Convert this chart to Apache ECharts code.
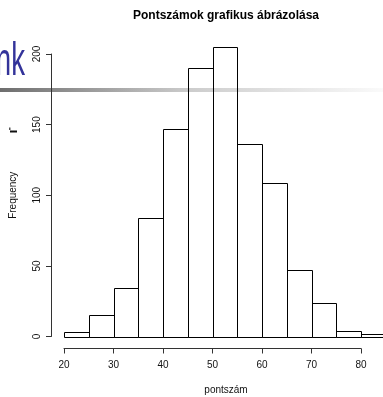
<!DOCTYPE html>
<html>
<head>
<meta charset="utf-8">
<script src="https://cdn.jsdelivr.net/npm/echarts@6/dist/echarts.min.js"></script>
<style>
html,body{margin:0;padding:0;background:#fff;}
#chart{width:383px;height:397px;}
</style>
</head>
<body>
<div id="chart"></div>
<script>
// Histogram data (bin edges and counts)
const binStarts = [20, 25, 30, 35, 40, 45, 50, 55, 60, 65, 70, 75, 80];
const binEnds   = [25, 30, 35, 40, 45, 50, 55, 60, 65, 70, 75, 80, 85];
const frequencies = [3, 15, 34, 84, 147, 190, 205, 136, 109, 47, 24, 4, 2];
const xTickValues = [20, 30, 40, 50, 60, 70, 80];
const yTickValues = [0, 50, 100, 150, 200];
const titleText = 'Pontszámok grafikus ábrázolása';
const xLabel = 'pontszám';
const yLabel = 'Frequency';

const FONT = '"Liberation Sans", Arial, sans-serif';
const chart = echarts.init(document.getElementById('chart'), null, {renderer: 'canvas'});

const seriesData = binStarts.map((s, i) => [s, binEnds[i], frequencies[i]]);

chart.setOption({
  animation: false,
  backgroundColor: '#ffffff',
  title: {
    text: titleText,
    left: 221,
    top: 5,
    textAlign: 'center',
    textStyle: {fontSize: 12, fontWeight: 'bold', color: '#000', fontFamily: FONT}
  },
  grid: {left: 64, top: 54, width: 297, height: 282.5, containLabel: false, outerBoundsMode: 'none'},
  xAxis: {
    type: 'value',
    min: xTickValues[0],
    max: xTickValues[xTickValues.length - 1],
    interval: 10,
    offset: 12,
    axisLine: {show: true, onZero: false, lineStyle: {color: '#333', width: 1}},
    axisTick: {show: true, length: 5, lineStyle: {color: '#333'}},
    axisLabel: {fontSize: 10, color: '#111', margin: 12, fontFamily: FONT},
    splitLine: {show: false},
    name: xLabel,
    nameLocation: 'middle',
    nameGap: 37,
    nameTextStyle: {fontSize: 10, color: '#111', fontFamily: FONT, padding: [0, 0, 0, 27]}
  },
  yAxis: {
    type: 'value',
    min: yTickValues[0],
    max: yTickValues[yTickValues.length - 1],
    interval: 50,
    offset: 13,
    axisLine: {show: true, onZero: false, lineStyle: {color: '#333', width: 1}},
    axisTick: {show: true, length: 5, lineStyle: {color: '#333'}},
    axisLabel: {fontSize: 10, color: '#111', margin: 9, rotate: 90, fontFamily: FONT},
    splitLine: {show: false},
    name: yLabel,
    nameLocation: 'middle',
    nameRotate: 90,
    nameGap: 33,
    nameTextStyle: {fontSize: 10, color: '#111', fontFamily: FONT}
  },
  graphic: [
    {
      type: 'rect', z: 0, silent: true,
      shape: {x: 0, y: 88, width: 383, height: 4},
      style: {
        fill: new echarts.graphic.LinearGradient(0, 0, 1, 0, [
          {offset: 0, color: '#6e6e6e'},
          {offset: 0.5, color: '#cdcdcd'},
          {offset: 1, color: '#fafafa'}
        ])
      }
    },
    {
      type: 'text', z: 0, silent: true,
      x: 25, y: 62, scaleX: 0.6,
      style: {text: 'nk', fill: '#33339a', font: '46px ' + FONT, textAlign: 'right', textVerticalAlign: 'middle'}
    },
    {
      type: 'rect', z: 0, silent: true,
      shape: {x: 10, y: 130.5, width: 7, height: 2},
      style: {fill: '#111'}
    },
    {
      type: 'rect', z: 0, silent: true,
      shape: {x: 9, y: 127.5, width: 1.5, height: 2.5},
      style: {fill: '#555'}
    }
  ],
  series: [{
    type: 'custom',
    clip: false,
    z: 3,
    data: seriesData,
    encode: {x: [0, 1], y: 2},
    renderItem: function (params, api) {
      const p0 = api.coord([api.value(0), 0]);
      const p1 = api.coord([api.value(1), api.value(2)]);
      const x0 = Math.round(p0[0]) + 0.5;
      const x1 = Math.round(p1[0]) + 0.5;
      const yb = Math.round(p0[1]) + 0.5;
      const yt = Math.round(p1[1]) + 0.5;
      return {
        type: 'rect',
        shape: {x: x0, y: yt, width: x1 - x0, height: yb - yt},
        style: {fill: 'none', stroke: '#000000', lineWidth: 1}
      };
    }
  }]
});
</script>
</body>
</html>
